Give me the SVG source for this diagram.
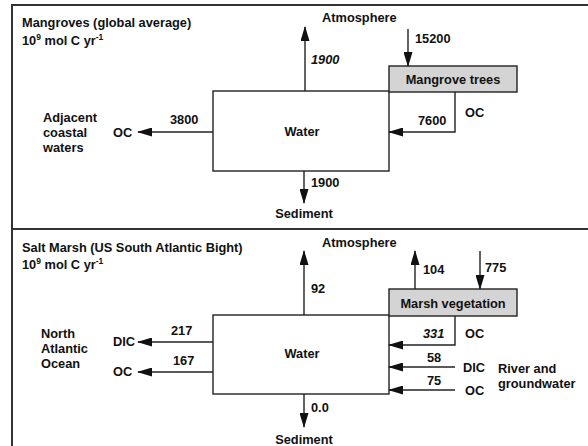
<svg xmlns="http://www.w3.org/2000/svg" width="588" height="446" viewBox="0 0 588 446">
<style>
text{font-family:"Liberation Sans",Arial,sans-serif;font-size:12.8px;font-weight:bold;fill:#111}
.c{text-anchor:middle}
.i{font-style:italic}
.sup{font-size:8.5px}
.box{fill:#fff;stroke:#222;stroke-width:1.4}
.veg{fill:#d4d4d4;stroke:#222;stroke-width:1.4}
.ar{fill:none;stroke:#222;stroke-width:1.4;marker-end:url(#ah)}
.frame{fill:none;stroke:#333;stroke-width:2}
</style>
<defs>
<marker id="ah" viewBox="0 0 15 9" refX="14" refY="4.5" markerWidth="15" markerHeight="9" markerUnits="userSpaceOnUse" orient="auto">
<path d="M0,0 L15,4.5 L0,9 z" fill="#111"/>
</marker>
</defs>
<g id="frame">
<path class="frame" d="M12,446 V5 H588"/>
<path class="frame" d="M12,229 H588"/>
</g>
<g id="titles">
<text x="22" y="27">Mangroves (global average)</text>
<text x="22" y="45">10<tspan class="sup" dy="-5">9</tspan><tspan dy="5"> mol C yr</tspan><tspan class="sup" dy="-5">-1</tspan></text>
<text x="22" y="252">Salt Marsh (US South Atlantic Bight)</text>
<text x="22" y="269">10<tspan class="sup" dy="-5">9</tspan><tspan dy="5"> mol C yr</tspan><tspan class="sup" dy="-5">-1</tspan></text>
</g>
<g id="water1"><rect class="box" x="213" y="91" width="176" height="80"/><text class="c" x="302" y="136">Water</text></g>
<g id="mangrove-trees"><rect class="veg" x="389" y="66" width="128" height="26"/><text class="c" x="453" y="84">Mangrove trees</text></g>
<g id="atmosphere1"><text x="322" y="22">Atmosphere</text></g>
<g id="sediment1"><text class="c" x="304" y="218">Sediment</text></g>
<g id="adjacent"><text x="43" y="122">Adjacent</text><text x="43" y="137">coastal</text><text x="43" y="152">waters</text><text x="113" y="137">OC</text></g>
<g id="water2"><rect class="box" x="213" y="315" width="176" height="79"/><text class="c" x="302" y="358">Water</text></g>
<g id="marsh-vegetation"><rect class="veg" x="389" y="289" width="128" height="27"/><text class="c" x="453" y="308">Marsh vegetation</text></g>
<g id="atmosphere2"><text x="322" y="247">Atmosphere</text></g>
<g id="sediment2"><text class="c" x="304" y="444">Sediment</text></g>
<g id="north-atlantic"><text x="41" y="338">North</text><text x="41" y="353">Atlantic</text><text x="41" y="368">Ocean</text><text x="113" y="346">DIC</text><text x="113" y="376">OC</text></g>
<g id="river"><text x="498" y="373">River and</text><text x="498" y="388">groundwater</text><text x="463" y="372">DIC</text><text x="465" y="395">OC</text></g>
<g id="connectors">
<line class="ar" x1="305" y1="91" x2="305" y2="27"/>
<line class="ar" x1="408" y1="29" x2="408" y2="66"/>
<polyline class="ar" points="455,92 455,132 389,132"/>
<line class="ar" x1="213" y1="132" x2="138" y2="132"/>
<line class="ar" x1="304" y1="171" x2="304" y2="203"/>
<line class="ar" x1="304" y1="315" x2="304" y2="251"/>
<line class="ar" x1="415" y1="289" x2="415" y2="251"/>
<line class="ar" x1="480" y1="251" x2="480" y2="289"/>
<polyline class="ar" points="455,316 455,345 389,345"/>
<line class="ar" x1="455" y1="367" x2="389" y2="367"/>
<line class="ar" x1="455" y1="390" x2="389" y2="390"/>
<line class="ar" x1="213" y1="342" x2="138" y2="342"/>
<line class="ar" x1="213" y1="372" x2="138" y2="372"/>
<line class="ar" x1="304" y1="394" x2="304" y2="427"/>
</g>
<g id="labels">
<text class="i" x="311" y="64">1900</text>
<text x="415" y="43">15200</text>
<text x="465" y="117">OC</text>
<text x="418" y="125">7600</text>
<text x="170" y="124">3800</text>
<text x="311" y="187">1900</text>
<text x="311" y="293">92</text>
<text x="423" y="274">104</text>
<text x="485" y="272">775</text>
<text class="i" x="423" y="338">331</text>
<text x="465" y="338">OC</text>
<text x="427" y="362">58</text>
<text x="427" y="385">75</text>
<text x="171" y="335">217</text>
<text x="173" y="365">167</text>
<text x="311" y="412">0.0</text>
</g>
</svg>
